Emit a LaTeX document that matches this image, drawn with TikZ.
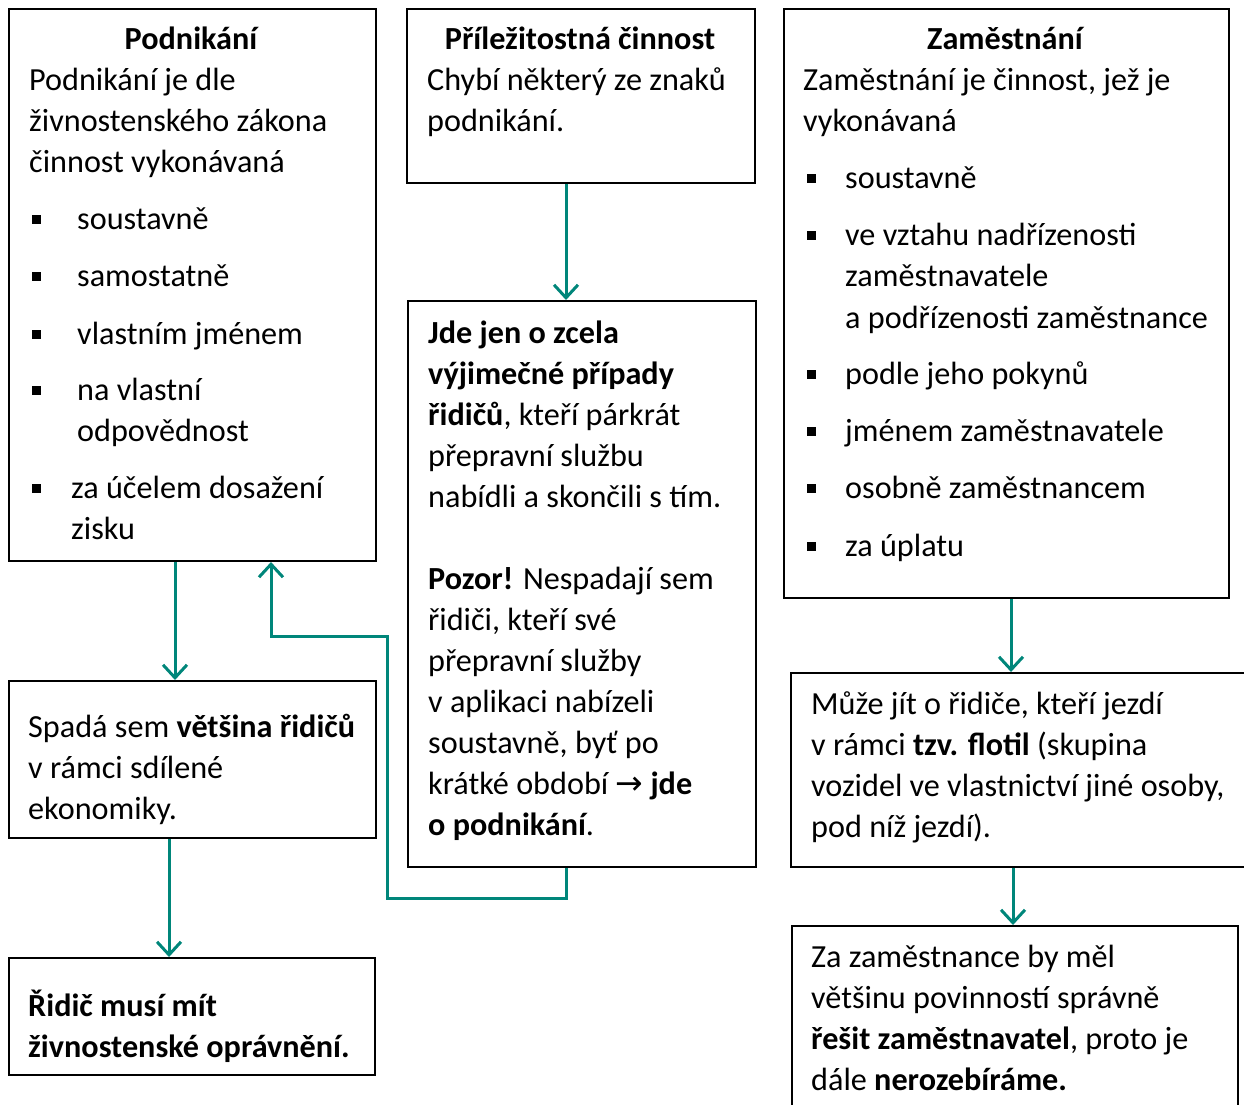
\documentclass[tikz,border=0pt]{standalone}
\usepackage{fontspec}
\setmainfont{Carlito}
\newfontfamily\dejavu{DejaVu Sans}
\usetikzlibrary{arrows.meta,calc}
\definecolor{teal1}{RGB}{0,134,122}
\begin{document}
\begin{tikzpicture}[x=1pt,y=-1pt,
  box/.style={draw=black, line width=2pt, inner sep=0pt, anchor=north west},
  txt/.style={anchor=base west, inner sep=0pt, font=\fontsize{32.2}{41}\selectfont},
  ttl/.style={anchor=base, inner sep=0pt, font=\fontsize{32.2}{41}\selectfont\bfseries},
  conn/.style={draw=teal1, line width=3pt, -{Straight Barb[length=13pt,width=24pt,line width=3pt]}}]
\useasboundingbox (0,0) rectangle (1244,1104);
\begin{scope}
\clip (0,0) rectangle (1244,1104);
% boxes
\node[box, minimum width=367pt, minimum height=552pt] (b1) at (8,8) {};
\node[box, minimum width=348pt, minimum height=174pt] (b2) at (406,8) {};
\node[box, minimum width=445pt, minimum height=589pt] (b3) at (783,8) {};
\node[box, minimum width=348pt, minimum height=566pt] (b4) at (407,300) {};
\node[box, minimum width=367pt, minimum height=157pt] (b5) at (8,680) {};
\node[box, minimum width=366pt, minimum height=117pt] (b6) at (8,957) {};
\node[box, minimum width=470pt, minimum height=194pt] (b7) at (790,672) {};
\node[box, minimum width=446pt, minimum height=200pt] (b8) at (791,925) {};
\end{scope}
% box 1 text
\node[ttl] (t1t) at (191,49) {Podnikání};
\node[txt] (t1a) at (29,90) {Podnikání je dle};
\node[txt] (t1b) at (29,131) {živnostenského zákona};
\node[txt] (t1c) at (29,172) {činnost vykonávaná};
\node[txt] (t1d) at (77,229) {soustavně};
\node[txt] (t1e) at (77,286) {samostatně};
\node[txt] (t1f) at (77,344) {vlastním jménem};
\node[txt] (t1g) at (77,400) {na vlastní};
\node[txt] (t1h) at (77,441) {odpovědnost};
\node[txt] (t1i) at (71,498) {za účelem dosažení};
\node[txt] (t1j) at (71,539) {zisku};
\foreach \yy in {219,276,334,390,488} \fill (31.5,\yy-4.5) rectangle ++(9,9);
% box 2 text
\node[ttl] (t2t) at (580,49) {Příležitostná činnost};
\node[txt] (t2a) at (427,90) {Chybí některý ze znaků};
\node[txt] (t2b) at (427,131) {podnikání.};
% box 3 text
\node[ttl] (t3t) at (1005,49) {Zaměstnání};
\node[txt] (t3a) at (803,90) {Zaměstnání je činnost, jež je};
\node[txt] (t3b) at (803,131) {vykonávaná};
\node[txt] (t3c) at (845,188) {soustavně};
\node[txt] (t3d) at (845,245) {ve vztahu nadřízenosti};
\node[txt] (t3e) at (845,286) {zaměstnavatele};
\node[txt] (t3f) at (845,328) {a podřízenosti zaměstnance};
\node[txt] (t3g) at (845,384) {podle jeho pokynů};
\node[txt] (t3h) at (845,441) {jménem zaměstnavatele};
\node[txt] (t3i) at (845,498) {osobně zaměstnancem};
\node[txt] (t3j) at (845,556) {za úplatu};
\foreach \yy in {178,235,374,431,488,546} \fill (806.5,\yy-4.5) rectangle ++(9,9);
% box 4 text
\node[txt] (t4a) at (428,343) {\bfseries Jde jen o zcela};
\node[txt] (t4b) at (428,384) {\bfseries výjimečné případy};
\node[txt] (t4c) at (428,425) {\textbf{řidičů}, kteří párkrát};
\node[txt] (t4d) at (428,466) {přepravní službu};
\node[txt] (t4e) at (428,507) {nabídli a skončili s tím.};
\node[txt] (t4f) at (428,589) {\textbf{Pozor!} Nespadají sem};
\node[txt] (t4g) at (428,630) {řidiči, kteří své};
\node[txt] (t4h) at (428,671) {přepravní služby};
\node[txt] (t4i) at (428,712) {v aplikaci nabízeli};
\node[txt] (t4j) at (428,753) {soustavně, byť po};
\node[txt] (t4k) at (428,794) {krátké období {\dejavu\fontsize{33}{41}\selectfont →} \textbf{jde}};
\node[txt] (t4l) at (428,835) {\textbf{o podnikání}.};
% box 5 text
\node[txt] (t5a) at (28,737) {Spadá sem \textbf{většina řidičů}};
\node[txt] (t5b) at (28,778) {v rámci sdílené};
\node[txt] (t5c) at (28,819) {ekonomiky.};
% box 6 text
\node[txt] (t6a) at (28,1016) {\bfseries Řidič musí mít};
\node[txt] (t6b) at (28,1057) {\bfseries živnostenské oprávnění.};
% box 7 text
\node[txt] (t7a) at (811,714) {Může jít o řidiče, kteří jezdí};
\node[txt] (t7b) at (811,755) {v rámci \textbf{tzv. flotil} (skupina};
\node[txt] (t7c) at (811,796) {vozidel ve vlastnictví jiné osoby,};
\node[txt] (t7d) at (811,837) {pod níž jezdí).};
% box 8 text
\node[txt] (t8a) at (811,967) {Za zaměstnance by měl};
\node[txt] (t8b) at (811,1008) {většinu povinností správně};
\node[txt] (t8c) at (811,1049) {\textbf{řešit zaměstnavatel}, proto je};
\node[txt] (t8d) at (811,1090) {dále \textbf{nerozebíráme.}};
% connectors
\coordinate (bend1) at (387,898);
\coordinate (bend2) at (271,636);
\draw[conn] ([xshift=-15pt]b2.south) -- ([xshift=-15pt]b2.south |- b4.north);
\draw[conn] ([xshift=-17.5pt]b1.south) -- ([xshift=-17.5pt]b1.south |- b5.north);
\draw[conn] ([xshift=-23.5pt]b5.south) -- ([xshift=-23.5pt]b5.south |- b6.north);
\draw[conn] ([xshift=-16pt]b4.south) |- (bend1) |- (bend2) -- (bend2 |- b1.south);
\draw[conn] ([xshift=4.5pt]b3.south) -- ([xshift=4.5pt]b3.south |- b7.north);
\draw[conn] ([xshift=-13pt]b7.south) -- ([xshift=-13pt]b7.south |- b8.north);
\end{tikzpicture}
\end{document}
